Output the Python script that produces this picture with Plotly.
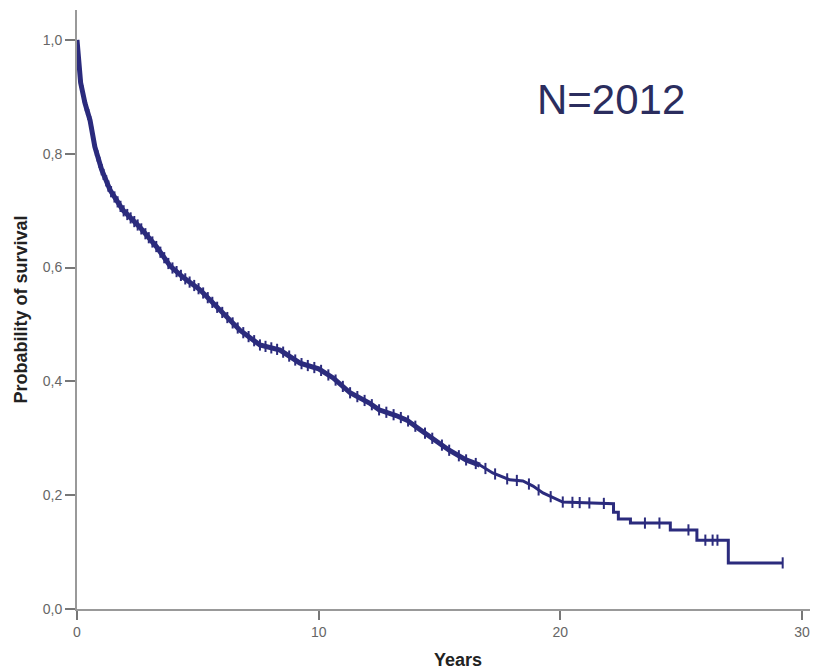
import numpy as np
import plotly.graph_objects as go

# Kaplan-Meier estimate (years, survival probability)
years = [0.00, 0.03, 0.08, 0.15, 0.33, 0.54, 0.74, 1.02, 1.37, 1.90, 2.60, 3.30,
         3.85, 4.39, 5.09, 5.92, 6.74, 7.57, 8.40, 9.23, 10.0, 10.6, 11.3, 12.1,
         12.5, 13.2, 13.65, 14.2, 14.7, 15.4, 16.1, 16.67, 17.2, 17.9, 18.45,
         18.87, 19.28, 19.86, 20.1, 22.2, 22.2, 22.4, 22.4, 22.9, 22.9, 24.55,
         24.55, 25.65, 25.65, 26.95, 26.95, 29.2]
survival = [1.000, 0.985, 0.960, 0.925, 0.889, 0.859, 0.812, 0.772, 0.736, 0.701,
            0.671, 0.636, 0.603, 0.583, 0.561, 0.525, 0.490, 0.464, 0.455, 0.432,
            0.422, 0.406, 0.380, 0.362, 0.350, 0.340, 0.332, 0.315, 0.300, 0.279,
            0.262, 0.253, 0.239, 0.227, 0.225, 0.216, 0.204, 0.192, 0.188, 0.185,
            0.170, 0.170, 0.158, 0.158, 0.151, 0.151, 0.139, 0.139, 0.121, 0.121,
            0.081, 0.081]

# Censored observations (years)
censored = [0.02, 0.06, 0.11, 0.17, 0.22, 0.28, 0.36, 0.41, 0.47, 0.55, 0.63, 0.70,
            0.78, 0.85, 0.93, 1.02, 1.10, 1.21, 1.30, 1.41, 1.55, 1.68, 1.80, 1.93,
            2.08, 2.22, 2.37, 2.51, 2.66, 2.83, 2.97, 3.12, 3.28, 3.45, 3.61, 3.78,
            3.95, 4.12, 4.30, 4.48, 4.66, 4.85, 5.03, 5.22, 5.41, 5.60, 5.80, 6.01,
            6.22, 6.44, 6.65, 6.88, 7.10, 7.33, 7.57, 7.80, 8.04, 8.28, 8.53, 8.78,
            9.03, 9.29, 9.55, 9.82, 10.1, 10.4, 10.7, 11.0, 11.3, 11.6, 11.9, 12.2,
            12.5, 12.8, 13.1, 13.4, 13.7, 14.0, 14.4, 14.7, 15.1, 15.4, 15.8, 16.1,
            16.5, 16.9, 17.3, 17.8, 18.2, 18.7, 19.1, 19.6, 20.1, 20.5, 20.8, 21.2,
            21.8, 23.5, 24.1, 25.3, 26.0, 26.3, 26.5, 29.2]

y_ticks = [0.0, 0.2, 0.4, 0.6, 0.8, 1.0]
y_tick_labels = ["0,0", "0,2", "0,4", "0,6", "0,8", "1,0"]
x_ticks = [0, 10, 20, 30]
x_tick_labels = ["0", "10", "20", "30"]

LINE = "#2b2b7d"

# survival value at each censoring time, looked up on the estimate
cens_y = np.interp(censored, years, survival)

# the heavily censored early follow-up reads as a heavier stroke
n_dense = years.index(16.67) + 1

fig = go.Figure()
fig.add_trace(go.Scatter(
    x=years, y=survival, mode="lines",
    line=dict(color=LINE, width=3),
    hoverinfo="skip", showlegend=False,
))
fig.add_trace(go.Scatter(
    x=years[:n_dense], y=survival[:n_dense], mode="lines",
    line=dict(color=LINE, width=5),
    hoverinfo="skip", showlegend=False,
))
fig.add_trace(go.Scatter(
    x=censored, y=cens_y, mode="markers",
    marker=dict(symbol="line-ns", size=8, line=dict(color=LINE, width=2)),
    hoverinfo="skip", showlegend=False,
))

fig.add_annotation(
    x=22.1, y=0.895, xref="x", yref="y",
    text="N=2012", showarrow=False,
    font=dict(family="Liberation Sans, Arial, sans-serif", size=42, color="#2b2d5e"),
)

# x-axis title, set slightly right of the plot-area centre
fig.add_annotation(
    x=15.76, y=-0.085, xref="x", yref="paper", yanchor="middle",
    text="<b>Years</b>", showarrow=False,
    font=dict(family="Liberation Sans, Arial, sans-serif", size=18, color="#222222"),
)

axis_font = dict(family="Liberation Sans Narrow, Liberation Sans, Arial, sans-serif",
                 size=14, color="#666666")

fig.update_layout(
    width=813, height=672,
    margin=dict(l=77, r=3, t=10, b=63),
    paper_bgcolor="white", plot_bgcolor="white",
    xaxis=dict(
        range=[0, 30.33], tickvals=x_ticks, ticktext=x_tick_labels,
        showgrid=False, zeroline=False,
        showline=True, linecolor="#999999", linewidth=2,
        ticks="outside", ticklen=9, tickwidth=2, tickcolor="#777777",
        tickfont=axis_font,
    ),
    yaxis=dict(
        range=[0, 1.0527], tickvals=y_ticks, ticktext=y_tick_labels,
        showgrid=False, zeroline=False,
        showline=True, linecolor="#999999", linewidth=2,
        ticks="outside", ticklen=10, tickwidth=2, tickcolor="#777777",
        tickfont=axis_font,
        title=dict(text="<b>Probability of survival</b>", standoff=10,
                   font=dict(family="Liberation Sans, Arial, sans-serif",
                             size=18, color="#222222")),
    ),
)

fig.write_html("out.html")
